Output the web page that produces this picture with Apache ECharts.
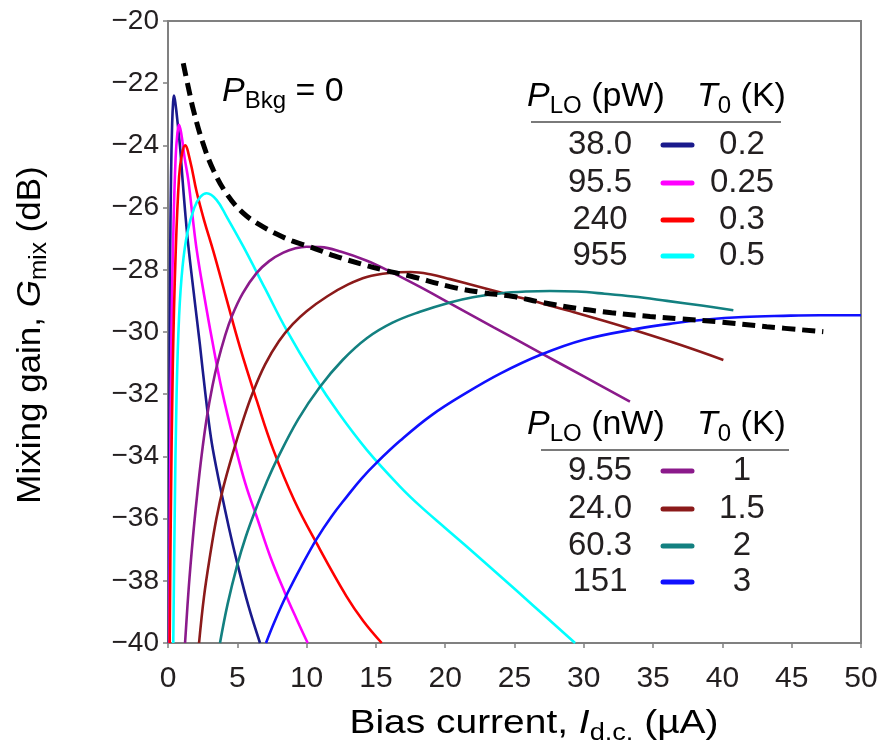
<!DOCTYPE html>
<html>
<head>
<meta charset="utf-8">
<title>Mixing gain vs bias current</title>
<script src="https://cdn.jsdelivr.net/npm/echarts@6/dist/echarts.min.js"></script>
<style>
  html, body { margin: 0; padding: 0; background: #ffffff; }
  #chart { width: 884px; height: 753px; }
</style>
</head>
<body>
<div id="chart"></div>
<script>
// ---- data: mixing gain G_mix (dB) against bias current I_dc (µA) ----
const curve_T0_02 = [[0.06,-40],[0.1,-33],[0.15,-28],[0.22,-25],[0.3,-23.3],[0.37,-22.6],[0.43,-22.4],[0.55,-22.7],[0.7,-23.3],[0.87,-24.05],[1.05,-25.1],[1.23,-26.1],[1.46,-27.2],[1.9,-28.9],[2.3,-30.4],[2.7,-32.0],[3.1,-33.4],[3.5,-34.4],[3.87,-35.2],[4.4,-36.3],[4.98,-37.4],[5.8,-38.8],[6.64,-40]];
const curve_T0_025 = [[0.1,-40],[0.15,-35],[0.25,-30],[0.4,-26.5],[0.55,-24.4],[0.68,-23.6],[0.79,-23.34],[0.95,-23.6],[1.2,-24.4],[1.46,-25.1],[1.75,-26.2],[2.07,-27.36],[2.6,-28.8],[3.2,-30.3],[3.9,-31.9],[4.83,-33.63],[5.6,-34.9],[6.4,-35.94],[7.4,-37.25],[8.44,-38.39],[9.3,-39.25],[10.08,-40]];
const curve_T0_03 = [[0.12,-40],[0.2,-36],[0.35,-31],[0.55,-27.5],[0.8,-25],[1.0,-24.3],[1.23,-24.0],[1.6,-24.5],[2.07,-25.5],[2.6,-26.4],[3.27,-27.4],[4.2,-28.9],[5.2,-30.5],[6.4,-32.2],[7.6,-33.79],[9.1,-35.4],[10.73,-36.8],[12.89,-38.51],[14.1,-39.3],[15.42,-40]];
const curve_T0_05 = [[0.38,-40],[0.48,-36],[0.62,-32],[0.8,-29.5],[1.05,-27.9],[1.4,-26.8],[1.9,-26.0],[2.35,-25.65],[2.79,-25.54],[3.5,-25.75],[4.24,-26.3],[5.43,-27.25],[7.0,-28.6],[8.56,-29.94],[10.5,-31.4],[12.3,-32.6],[14.34,-33.79],[16.74,-34.97],[18.2,-35.6],[20,-36.3],[21.55,-36.9],[24,-37.86],[26.36,-38.8],[29.37,-40]];
const curve_T0_1 = [[1.23,-40],[1.5,-38.2],[1.8,-36.6],[2.1,-35.25],[2.43,-33.95],[2.8,-32.75],[3.2,-31.75],[3.6,-30.95],[4.1,-30.15],[4.6,-29.5],[5.4,-28.75],[6.4,-28.1],[7.3,-27.72],[8.32,-27.45],[9.2,-27.31],[10.0,-27.26],[11,-27.27],[12.5,-27.42],[14.3,-27.7],[16,-28.05],[18.18,-28.55],[20.35,-29.08],[23.5,-29.85],[26.84,-30.66],[30,-31.43],[33.33,-32.24]];
const curve_T0_15 = [[2.24,-40],[2.6,-38.5],[3.03,-37.2],[3.5,-35.98],[4.0,-34.98],[4.7,-33.86],[5.4,-32.86],[6.1,-31.97],[7.0,-31.05],[8.0,-30.3],[9.0,-29.75],[10.0,-29.33],[11.5,-28.85],[13.0,-28.47],[14.34,-28.23],[16,-28.1],[17.5,-28.07],[19,-28.15],[20.35,-28.3],[22.5,-28.55],[24.68,-28.81],[27,-29.08],[29.24,-29.36],[31.5,-29.65],[33.57,-29.93],[37,-30.42],[40.07,-30.9]];
const curve_T0_2 = [[3.75,-40],[4.3,-38.75],[4.96,-37.55],[5.6,-36.6],[6.4,-35.62],[7.1,-34.85],[7.84,-34.12],[9.4,-32.8],[10.97,-31.76],[12.6,-30.9],[14.34,-30.2],[16.2,-29.7],[18.18,-29.35],[20.35,-29.05],[22,-28.88],[23.95,-28.76],[25.8,-28.7],[27.56,-28.68],[29.5,-28.7],[31.5,-28.77],[33.57,-28.86],[36,-29.0],[38.5,-29.15],[40.79,-29.3]];
const curve_T0_3 = [[7.07,-40],[7.7,-39.3],[8.56,-38.45],[9.6,-37.55],[10.73,-36.65],[11.8,-35.93],[12.89,-35.3],[13.95,-34.72],[15.06,-34.2],[16.74,-33.5],[19,-32.68],[21.55,-31.95],[24,-31.33],[26.84,-30.74],[30,-30.25],[33.82,-29.9],[36.5,-29.72],[38.87,-29.6],[41.5,-29.52],[44.4,-29.48],[47,-29.46],[50,-29.46]];
const envelope = [[1.1,-21.36],[1.5,-22.2],[1.83,-22.86],[2.5,-23.9],[3.27,-24.79],[4.3,-25.6],[5.43,-26.18],[6.6,-26.55],[7.84,-26.85],[9,-27.08],[10.25,-27.26],[12,-27.55],[13.85,-27.8],[15.5,-28.0],[17.46,-28.2],[20.35,-28.54],[22.5,-28.72],[24.91,-28.86],[27,-29.05],[29.49,-29.24],[32,-29.38],[34.78,-29.5],[37,-29.58],[39.59,-29.67],[43.2,-29.83],[47.28,-29.99]];

// legend table contents
const pwPowers = ['38.0', '95.5', '240', '955'];
const pwTemps = ['0.2', '0.25', '0.3', '0.5'];
const nwPowers = ['9.55', '24.0', '60.3', '151'];
const nwTemps = ['1', '1.5', '2', '3'];

// axis ranges
const xRange = [0, 50, 5];
const yRange = [-40, -20, 2];

// ---- styling ----
const FONT = '"Liberation Sans", Arial, Helvetica, sans-serif';
const INK = '#231f20';
const AXIS = '#808080';
const colorsPW = ['#1a1a8c', '#ff00ff', '#ff0000', '#00ffff'];
const colorsNW = ['#8b1a8b', '#8b1a1a', '#138080', '#1010ff'];
const curvesPW = [curve_T0_02, curve_T0_025, curve_T0_03, curve_T0_05];
const curvesNW = [curve_T0_1, curve_T0_15, curve_T0_2, curve_T0_3];

function richSet(size, subSize, drop) {
  return {
    n: { fontFamily: FONT, fontSize: size, color: INK },
    i: { fontFamily: FONT, fontSize: size, fontStyle: 'italic', color: INK },
    s: { fontFamily: FONT, fontSize: subSize, color: INK, padding: [drop, 0, 0, 0] }
  };
}

const chart = echarts.init(document.getElementById('chart'), null, { renderer: 'canvas' });

const series = [];
function addCurve(name, data, color) {
  series.push({
    name: name,
    type: 'line',
    data: data,
    showSymbol: false,
    smooth: 0.4,
    lineStyle: { color: color, width: 2.6 },
    itemStyle: { color: color },
    z: 2,
    silent: true
  });
}
curvesPW.forEach((c, k) => addCurve('T0 ' + pwTemps[k] + ' K', c, colorsPW[k]));
curvesNW.forEach((c, k) => addCurve('T0 ' + nwTemps[k] + ' K', c, colorsNW[k]));
series.push({
  name: 'envelope',
  type: 'line',
  data: envelope,
  showSymbol: false,
  smooth: 0.4,
  lineStyle: { color: '#000', width: 5, type: [13, 7], cap: 'butt' },
  z: 4,
  silent: true
});

// legend tables built as graphic elements
const graphics = [];
function table(x0, headerY, underline, rowsY, powers, temps, colors, unit) {
  graphics.push({
    type: 'text', x: x0, y: headerY,
    style: { text: '{i|P}{s|LO}{n| (' + unit + ')}', rich: richSet(34, 24, 18), textVerticalAlign: 'middle', textAlign: 'left' }
  });
  graphics.push({
    type: 'text', x: 697, y: headerY,
    style: { text: '{i|T}{s|0}{n| (K)}', rich: richSet(34, 24, 18), textVerticalAlign: 'middle', textAlign: 'left' }
  });
  graphics.push({
    type: 'line', shape: { x1: underline[0], y1: underline[2], x2: underline[1], y2: underline[2] },
    style: { stroke: '#7a7a7a', lineWidth: 2 }
  });
  rowsY.forEach((y, k) => {
    graphics.push({ type: 'text', x: 600, y: y, style: { text: powers[k], font: '33px ' + FONT, fill: INK, textAlign: 'center', textVerticalAlign: 'middle' } });
    graphics.push({ type: 'line', shape: { x1: 663, y1: y, x2: 692, y2: y }, style: { stroke: colors[k], lineWidth: 5, lineCap: 'round' } });
    graphics.push({ type: 'text', x: 742, y: y, style: { text: temps[k], font: '33px ' + FONT, fill: INK, textAlign: 'center', textVerticalAlign: 'middle' } });
  });
}
table(527, 97, [531, 781, 122], [145, 183, 220, 256], pwPowers, pwTemps, colorsPW, 'pW');
table(527, 425, [541, 789, 450], [471, 509, 546, 582], nwPowers, nwTemps, colorsNW, 'nW');

graphics.push({
  type: 'text', x: 222, y: 92,
  style: { text: '{i|P}{s|Bkg}{n| = 0}', rich: richSet(34, 24, 18), textVerticalAlign: 'middle', textAlign: 'left' }
});

// axis titles, set as text so they can be stretched a little along their length
graphics.push({
  type: 'text', x: 534, y: 724, scaleX: 1.18,
  style: { text: '{n|Bias current, }{i|I}{s|d.c.}{n| (µA)}', rich: richSet(33, 23, 19), textAlign: 'center', textVerticalAlign: 'middle' }
});
graphics.push({
  type: 'text', x: 31, y: 335, rotation: Math.PI / 2, scaleX: 1.06,
  style: { text: '{n|Mixing gain, }{i|G}{s|mix}{n| (dB)}', rich: richSet(33, 23, 18), textAlign: 'center', textVerticalAlign: 'middle' }
});

const minus = v => String(v).replace('-', '\u2212');

chart.setOption({
  animation: false,
  backgroundColor: '#ffffff',
  grid: { left: 168, right: 23, top: 21, bottom: 110, show: true, borderColor: AXIS, borderWidth: 2, backgroundColor: 'transparent' },
  xAxis: {
    type: 'value', min: xRange[0], max: xRange[1], interval: xRange[2],
    axisLine: { show: true, lineStyle: { color: AXIS, width: 2 } },
    axisTick: { show: true, inside: false, length: 5, lineStyle: { color: AXIS, width: 1.5 } },
    axisLabel: { fontFamily: FONT, fontSize: 30, color: INK, margin: 21 },
    splitLine: { show: false }
  },
  yAxis: {
    type: 'value', min: yRange[0], max: yRange[1], interval: yRange[2],
    axisLine: { show: true, lineStyle: { color: AXIS, width: 2 } },
    axisTick: { show: true, inside: false, length: 5, lineStyle: { color: AXIS, width: 1.5 } },
    axisLabel: { fontFamily: FONT, fontSize: 28, color: INK, margin: 9, formatter: minus },
    splitLine: { show: false }
  },
  series: series,
  graphic: graphics
});
</script>
</body>
</html>
